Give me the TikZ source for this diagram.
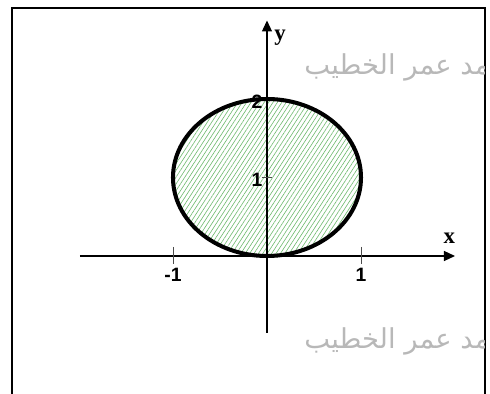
\documentclass[tikz,border=0pt]{standalone}
\usepackage{fontspec}
\setmainfont{Liberation Serif}
\setsansfont{Liberation Sans}
\newfontfamily\arabicfont[Script=Arabic]{DejaVu Sans}
\TeXXeTstate=1
\usetikzlibrary{arrows.meta,patterns.meta}
\definecolor{hatch}{RGB}{110,185,110}

\begin{document}
\begin{tikzpicture}[
    x=1.88cm, y=1.57cm,
    frame/.style={line width=1.6pt},
    axis/.style={line width=0.7pt, -{Triangle[length=2.2mm, width=2mm]}},
    tick/.style={line width=0.4pt, black!70},
    num/.style={font=\sffamily\bfseries\fontsize{11}{12}\selectfont, inner sep=1pt},
    axlab/.style={font=\bfseries\fontsize{13}{14}\selectfont, inner sep=1pt},
    wmark/.style={font=\arabicfont\fontsize{15.6}{17}\selectfont, text=black!28, inner sep=0pt}
  ]
    \useasboundingbox (-5.34cm,-2.76cm) rectangle (4.46cm,5.12cm);
    % frame, open at the bottom
    \draw[frame] (-5.10cm,-3cm) -- (-5.10cm,4.96cm) -- (4.36cm,4.96cm) -- (4.36cm,-3cm);
    % watermark, cut by the frame
    \begin{scope}
      \clip (-5.10cm,-3cm) rectangle (4.36cm,4.96cm);
      \node[wmark, anchor=west] (wmtop) at (0.74cm,3.78cm) {\beginR محمد عمر الخطيب\endR};
      \node[wmark, anchor=west] (wmbot) at (0.74cm,-1.70cm) {\beginR محمد عمر الخطيب\endR};
    \end{scope}
    % region
    \coordinate (C) at (0,1);
    \fill[pattern={Lines[angle=57, distance=2.1pt, line width=0.35pt]}, pattern color=hatch]
      (C) ellipse [x radius=1, y radius=1];
    % axes
    \coordinate (xstart) at (-1.99,0);
    \coordinate (xend) at (2,0);
    \coordinate (ystart) at (0,-0.98);
    \coordinate (yend) at (0,3.0);
    \draw[axis] (xstart) -- (xend);
    \draw[axis] (ystart) -- (yend);
    \draw[line width=2.3pt] (C) ellipse [x radius=1, y radius=1];
    % ticks
    \foreach \t in {-1,1}
      \draw[tick] (\t,0) ++(0,0.18cm) -- ++(0,-0.34cm);
    \draw[tick] (0,1) ++(-0.1cm,0) -- ++(0.2cm,0);
    % labels
    \node[num] (xm1) at (-1.0,-0.24) {-1};
    \node[num] (xp1) at (1.0,-0.24) {1};
    \node[num] (y2) at (-0.106,1.96) {2};
    \node[num] (y1) at (-0.106,0.97) {1};
    \node[axlab] (xlab) at (1.94,0.23) {x};
    \node[axlab] (ylab) at (0.14,2.78) {y};
  \end{tikzpicture}
\end{document}
